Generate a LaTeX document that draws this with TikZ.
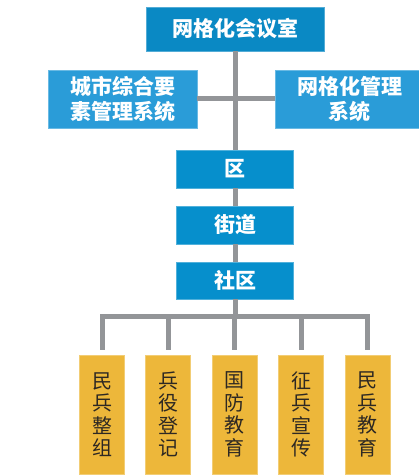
\documentclass[tikz,border=0pt]{standalone}
\usepackage{fontspec}
\newfontfamily\cjk{Noto Sans CJK SC}
\definecolor{topblue}{RGB}{10,137,196}
\definecolor{sideblue}{RGB}{42,156,216}
\definecolor{midblue}{RGB}{6,143,204}
\definecolor{ybox}{RGB}{237,183,58}
\definecolor{lgray}{RGB}{147,149,152}
\definecolor{ytext}{RGB}{45,40,35}
\tikzset{
  bluebox/.style={fill=#1, draw=#1!70!white, line width=0.6pt, text=white, inner sep=0pt, align=center,
    font=\cjk\bfseries\fontsize{21}{25}\selectfont},
  yelbox/.style={fill=ybox, draw=ybox!70!white, line width=0.6pt, text=ytext, inner sep=0pt, align=center,
    minimum width=45pt, minimum height=119pt, font=\cjk\fontsize{20}{22.5}\selectfont},
  conn/.style={draw=lgray, line width=5pt}
}
\begin{document}
\begin{tikzpicture}[x=1pt,y=-1pt]
\useasboundingbox (0,0) rectangle (419,476);
\coordinate (bus) at (235,316);
\node[bluebox=topblue, minimum width=178pt, minimum height=44pt] (top) at (235,29) {网格化会议室};
\node[bluebox=sideblue, minimum width=149pt, minimum height=58pt] (left) at (122.5,99) {城市综合要\\素管理系统};
\node[bluebox=sideblue, minimum width=149pt, minimum height=58pt] (right) at (349.5,99) {网格化管理\\系统};
\node[bluebox=midblue, minimum width=117pt, minimum height=38pt] (qu) at (235,169) {区};
\node[bluebox=midblue, minimum width=117pt, minimum height=38pt] (jd) at (235,225) {街道};
\node[bluebox=midblue, minimum width=117pt, minimum height=37pt] (sq) at (235,280.5) {社区};
\node[yelbox] (b1) at (102,414.5) {民\\兵\\整\\组};
\node[yelbox] (b2) at (168,414.5) {兵\\役\\登\\记};
\node[yelbox] (b3) at (234.5,414.5) {国\\防\\教\\育};
\node[yelbox] (b4) at (301,414.5) {征\\兵\\宣\\传};
\node[yelbox] (b5) at (367.5,414.5) {民\\兵\\教\\育};
\draw[conn] (top.south) -- (qu.north);
\draw[conn] (left.east) -- (right.west);
\draw[conn] (qu.south) -- (jd.north);
\draw[conn] (jd.south) -- (sq.north);
\draw[conn] (sq.south) -- (bus);
\foreach \b in {b1,b2,b3,b4,b5}{
  \draw[conn, shorten <=5pt] (\b.north) |- (bus);
}
\end{tikzpicture}
\end{document}
